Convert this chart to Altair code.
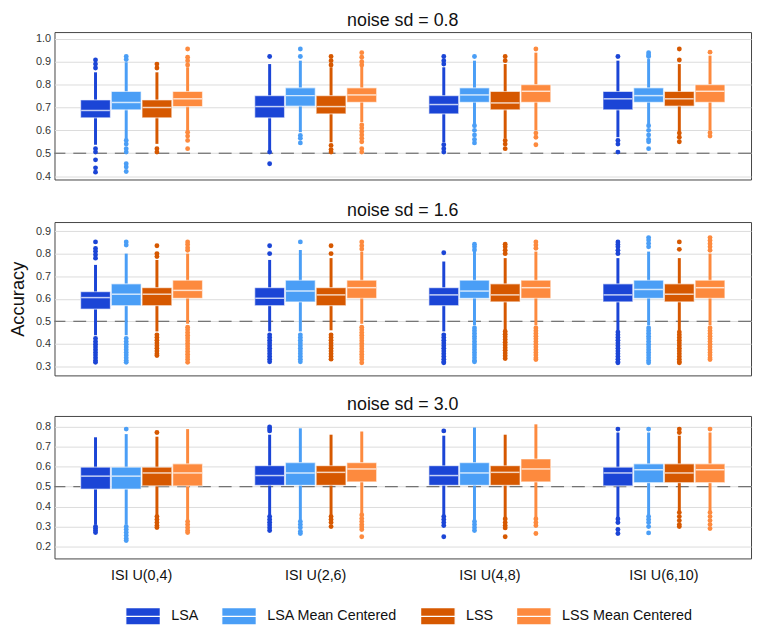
import altair as alt
import pandas as pd

FONT = "Liberation Sans"

panels = ["noise sd = 0.8", "noise sd = 1.6", "noise sd = 3.0"]
isis = ["ISI U(0,4)", "ISI U(2,6)", "ISI U(4,8)", "ISI U(6,10)"]
methods = ["LSA", "LSA Mean Centered", "LSS", "LSS Mean Centered"]
colors = ["#1b45d6", "#4a9ef6", "#d65800", "#fd8a3e"]
y_ticks = [[0.4, 0.5, 0.6, 0.7, 0.8, 0.9, 1.0],
           [0.3, 0.4, 0.5, 0.6, 0.7, 0.8, 0.9],
           [0.2, 0.3, 0.4, 0.5, 0.6, 0.7, 0.8]]
y_domains = [[0.385, 1.03], [0.26, 0.94], [0.14, 0.855]]

# box statistics per panel -> isi -> method: [whisker_low, q1, median, q3, whisker_high]
stats = {
    "noise sd = 0.8": [
        [[0.537, 0.655, 0.687, 0.733, 0.854], [0.563, 0.690, 0.722, 0.770, 0.898],
         [0.541, 0.655, 0.700, 0.733, 0.854], [0.600, 0.704, 0.738, 0.770, 0.876]],
        [[0.505, 0.655, 0.704, 0.752, 0.890], [0.592, 0.706, 0.752, 0.786, 0.905],
         [0.548, 0.672, 0.704, 0.752, 0.876], [0.636, 0.723, 0.755, 0.786, 0.883]],
        [[0.548, 0.672, 0.713, 0.752, 0.876], [0.628, 0.723, 0.755, 0.786, 0.905],
         [0.566, 0.690, 0.720, 0.770, 0.890], [0.600, 0.723, 0.771, 0.800, 0.940]],
        [[0.570, 0.690, 0.738, 0.770, 0.905], [0.628, 0.723, 0.752, 0.786, 0.912],
         [0.595, 0.706, 0.738, 0.770, 0.890], [0.600, 0.723, 0.771, 0.800, 0.927]],
    ],
    "noise sd = 1.6": [
        [[0.438, 0.554, 0.605, 0.631, 0.750], [0.438, 0.569, 0.620, 0.666, 0.800],
         [0.455, 0.569, 0.620, 0.649, 0.772], [0.489, 0.602, 0.637, 0.682, 0.800]],
        [[0.455, 0.569, 0.602, 0.649, 0.772], [0.455, 0.586, 0.634, 0.682, 0.816],
         [0.460, 0.569, 0.617, 0.649, 0.780], [0.489, 0.602, 0.649, 0.682, 0.809]],
        [[0.455, 0.569, 0.617, 0.649, 0.765], [0.482, 0.602, 0.634, 0.682, 0.809],
         [0.460, 0.586, 0.617, 0.666, 0.780], [0.482, 0.602, 0.649, 0.682, 0.809]],
        [[0.460, 0.586, 0.617, 0.666, 0.780], [0.482, 0.602, 0.641, 0.682, 0.809],
         [0.460, 0.586, 0.620, 0.666, 0.780], [0.482, 0.602, 0.649, 0.682, 0.800]],
    ],
    "noise sd = 3.0": [
        [[0.309, 0.488, 0.553, 0.598, 0.748], [0.309, 0.488, 0.553, 0.598, 0.764],
         [0.358, 0.504, 0.569, 0.598, 0.751], [0.333, 0.504, 0.569, 0.615, 0.789]],
        [[0.358, 0.507, 0.556, 0.605, 0.761], [0.325, 0.507, 0.569, 0.621, 0.793],
         [0.358, 0.507, 0.572, 0.605, 0.761], [0.366, 0.524, 0.589, 0.621, 0.777]],
        [[0.358, 0.507, 0.556, 0.605, 0.756], [0.325, 0.507, 0.569, 0.621, 0.797],
         [0.345, 0.507, 0.572, 0.605, 0.761], [0.345, 0.524, 0.589, 0.639, 0.813]],
        [[0.345, 0.504, 0.569, 0.598, 0.772], [0.358, 0.520, 0.585, 0.615, 0.772],
         [0.374, 0.520, 0.569, 0.615, 0.756], [0.374, 0.520, 0.585, 0.615, 0.772]],
    ],
}

# outlier values per panel -> isi -> method
outliers = {
    "noise sd = 0.8": [
        [[0.908, 0.890, 0.873, 0.520, 0.505, 0.471, 0.436, 0.417],
         [0.923, 0.910, 0.556, 0.540, 0.520, 0.505, 0.454, 0.440, 0.420],
         [0.890, 0.873, 0.520, 0.505],
         [0.956, 0.920, 0.905, 0.886, 0.592, 0.575, 0.556, 0.520]],
        [[0.923, 0.505, 0.454],
         [0.956, 0.923, 0.578, 0.565, 0.545],
         [0.923, 0.905, 0.886, 0.534, 0.516, 0.505],
         [0.940, 0.920, 0.900, 0.886, 0.624, 0.610, 0.595, 0.580, 0.565, 0.550, 0.520, 0.505]],
        [[0.923, 0.905, 0.890, 0.537, 0.520, 0.505],
         [0.923, 0.620, 0.600, 0.580, 0.560, 0.545],
         [0.923, 0.905, 0.556, 0.540, 0.520],
         [0.956, 0.588, 0.570, 0.537]],
        [[0.923, 0.556, 0.540, 0.505],
         [0.940, 0.930, 0.923, 0.620, 0.600, 0.580, 0.560, 0.550, 0.520],
         [0.956, 0.908, 0.588, 0.570, 0.550],
         [0.942, 0.590, 0.575]],
    ],
    "noise sd = 1.6": [
        [[0.852, 0.823, 0.810, 0.795, 0.780, 0.424, 0.410, 0.398, 0.386, 0.374, 0.362, 0.350, 0.338, 0.326, 0.318],
         [0.852, 0.838, 0.424, 0.410, 0.398, 0.386, 0.374, 0.362, 0.350, 0.338, 0.326, 0.318],
         [0.835, 0.800, 0.787, 0.440, 0.428, 0.416, 0.404, 0.392, 0.380, 0.368, 0.356, 0.348],
         [0.852, 0.840, 0.826, 0.815, 0.474, 0.462, 0.450, 0.438, 0.426, 0.414, 0.402, 0.390,
          0.378, 0.366, 0.354, 0.342, 0.330, 0.318]],
        [[0.835, 0.800, 0.440, 0.428, 0.416, 0.404, 0.392, 0.380, 0.368, 0.356, 0.344, 0.332, 0.320],
         [0.852, 0.440, 0.428, 0.416, 0.404, 0.392, 0.380, 0.368, 0.356, 0.344, 0.332, 0.320],
         [0.835, 0.800, 0.440, 0.428, 0.416, 0.404, 0.392, 0.380, 0.368, 0.356, 0.344, 0.332],
         [0.852, 0.835, 0.820, 0.474, 0.462, 0.450, 0.438, 0.426, 0.414, 0.402, 0.390,
          0.378, 0.366, 0.354, 0.342, 0.330, 0.316]],
        [[0.804, 0.440, 0.428, 0.416, 0.404, 0.392, 0.380, 0.368, 0.356, 0.344, 0.332, 0.320, 0.316],
         [0.842, 0.830, 0.816, 0.470, 0.458, 0.446, 0.434, 0.422, 0.410, 0.398, 0.386, 0.374,
          0.362, 0.350, 0.338, 0.326, 0.320],
         [0.842, 0.830, 0.815, 0.800, 0.455, 0.443, 0.431, 0.419, 0.407, 0.395, 0.383, 0.371,
          0.359, 0.347, 0.335],
         [0.852, 0.838, 0.824, 0.470, 0.458, 0.446, 0.434, 0.422, 0.410, 0.398, 0.386, 0.374,
          0.362, 0.350, 0.338, 0.330]],
        [[0.852, 0.840, 0.830, 0.815, 0.800, 0.452, 0.440, 0.428, 0.416, 0.404, 0.392, 0.380,
          0.368, 0.356, 0.344, 0.332, 0.320, 0.316],
         [0.871, 0.860, 0.845, 0.830, 0.470, 0.458, 0.446, 0.434, 0.422, 0.410, 0.398, 0.386,
          0.374, 0.362, 0.350, 0.338, 0.326, 0.316],
         [0.852, 0.819, 0.452, 0.440, 0.428, 0.416, 0.404, 0.392, 0.380, 0.368, 0.356, 0.344,
          0.332, 0.320, 0.316],
         [0.871, 0.858, 0.844, 0.830, 0.815, 0.470, 0.458, 0.446, 0.434, 0.422, 0.410, 0.398,
          0.386, 0.374, 0.362, 0.350, 0.338, 0.330]],
    ],
    "noise sd = 3.0": [
        [[0.300, 0.290, 0.280, 0.270],
         [0.789, 0.300, 0.285, 0.270, 0.255, 0.240, 0.230],
         [0.772, 0.350, 0.335, 0.320, 0.305, 0.295],
         [0.325, 0.310, 0.295, 0.280, 0.270]],
        [[0.800, 0.790, 0.780, 0.350, 0.336, 0.322, 0.308, 0.294, 0.280],
         [0.325, 0.310, 0.295, 0.275, 0.265],
         [0.350, 0.335, 0.320, 0.300],
         [0.358, 0.340, 0.325, 0.310, 0.298, 0.285, 0.249]],
        [[0.780, 0.350, 0.335, 0.320, 0.305, 0.249],
         [0.325, 0.310, 0.295, 0.280],
         [0.338, 0.320, 0.305, 0.293, 0.249],
         [0.338, 0.320, 0.305, 0.265]],
        [[0.789, 0.338, 0.320, 0.285, 0.265],
         [0.789, 0.350, 0.335, 0.320, 0.300, 0.268],
         [0.789, 0.772, 0.370, 0.350, 0.330, 0.310, 0.300],
         [0.789, 0.370, 0.350, 0.330, 0.310, 0.290]],
    ],
}

color_of = dict(zip(methods, colors))

box_rows = []
out_rows = []
for p in panels:
    for i, isi in enumerate(isis):
        for j, m in enumerate(methods):
            lo, q1, med, q3, hi = stats[p][i][j]
            box_rows.append(dict(panel=p, isi=isi, method=m, lo=lo, q1=q1,
                                 med=med, q3=q3, hi=hi, hex=color_of[m]))
            for v in outliers[p][i][j]:
                out_rows.append(dict(panel=p, isi=isi, method=m, value=v,
                                     hex=color_of[m]))
boxes = pd.DataFrame(box_rows)
outs = pd.DataFrame(out_rows)
ref = pd.DataFrame({"y": [0.5]})

legend_path = "M-1,-0.5H1V0.5H-1Z M-1,0H1"
heights = [149, 155, 144]


def panel_chart(k):
    p = panels[k]
    bottom = k == 2
    x_enc = alt.X("isi:N", sort=isis,
                  scale=alt.Scale(paddingInner=0.3, paddingOuter=0.15),
                  axis=alt.Axis(title=None, labelAngle=0, ticks=False, domain=False,
                                grid=False, labelFontSize=14.5, labelColor="#111",
                                labelPadding=10, labelFont=FONT) if bottom else None)
    xo = alt.XOffset("method:N", sort=methods,
                     scale=alt.Scale(paddingInner=0.03, paddingOuter=0))
    y_axis = alt.Axis(values=y_ticks[k], format=".1f", ticks=False, domain=False,
                      grid=True, labelFontSize=11, labelColor="#333", labelPadding=4,
                      labelFont=FONT, gridColor="#dcdcdc",
                      title="Accuracy" if k == 1 else None,
                      titleFontSize=18.5, titleFontWeight="normal", titleFont=FONT,
                      titleColor="#111", titlePadding=8)
    yscale = alt.Scale(domain=y_domains[k], nice=False, zero=False)

    bdata = alt.Chart(boxes).transform_filter(alt.datum.panel == p)
    odata = alt.Chart(outs).transform_filter(alt.datum.panel == p)

    rule_ref = alt.Chart(ref).mark_rule(color="#555", strokeDash=[13, 8], strokeWidth=1).encode(
        y=alt.Y("y:Q", scale=yscale, axis=y_axis)
    )
    whisk = bdata.mark_rule(strokeWidth=3).encode(
        x=x_enc, xOffset=xo,
        y=alt.Y("lo:Q", scale=yscale, axis=y_axis), y2="hi:Q",
        color=alt.Color("hex:N", scale=None),
    )
    pts = odata.mark_circle(size=24, opacity=1).encode(
        x=x_enc, xOffset=xo,
        y=alt.Y("value:Q", scale=yscale, axis=y_axis),
        color=alt.Color("hex:N", scale=None),
    )
    bars = bdata.mark_bar(stroke="white", strokeOpacity=0.55, strokeWidth=1.2).encode(
        x=x_enc, xOffset=xo,
        y=alt.Y("q1:Q", scale=yscale, axis=y_axis), y2="q3:Q",
        color=alt.Color("method:N", sort=methods,
                        scale=alt.Scale(domain=methods, range=colors),
                        legend=alt.Legend(title=None, orient="none", direction="horizontal",
                                          legendX=71, legendY=572, gridAlign="none",
                                          symbolType=legend_path, symbolSize=1225,
                                          symbolStrokeColor="white", symbolStrokeWidth=1.3,
                                          symbolOpacity=1,
                                          labelFontSize=14.5, labelFont=FONT, labelColor="#111",
                                          labelOffset=10, columnPadding=20)),
    )
    meds = bdata.mark_tick(color="white", opacity=0.75, thickness=1.5, size=29).encode(
        x=x_enc, xOffset=xo,
        y=alt.Y("med:Q", scale=yscale, axis=y_axis),
    )
    return alt.layer(rule_ref, whisk, pts, bars, meds).properties(
        width=704, height=heights[k],
        title=alt.TitleParams(p, fontSize=18, fontWeight="normal", font=FONT,
                              color="#111", anchor="middle", offset=2),
    )


chart = alt.vconcat(panel_chart(0), panel_chart(1), panel_chart(2), spacing=19).properties(
    padding={"left": 0, "top": 0, "right": 2, "bottom": 0}
).configure_view(stroke="#444", strokeWidth=1)

chart.save("out.html", embed_options={"renderer": "svg", "actions": False})
